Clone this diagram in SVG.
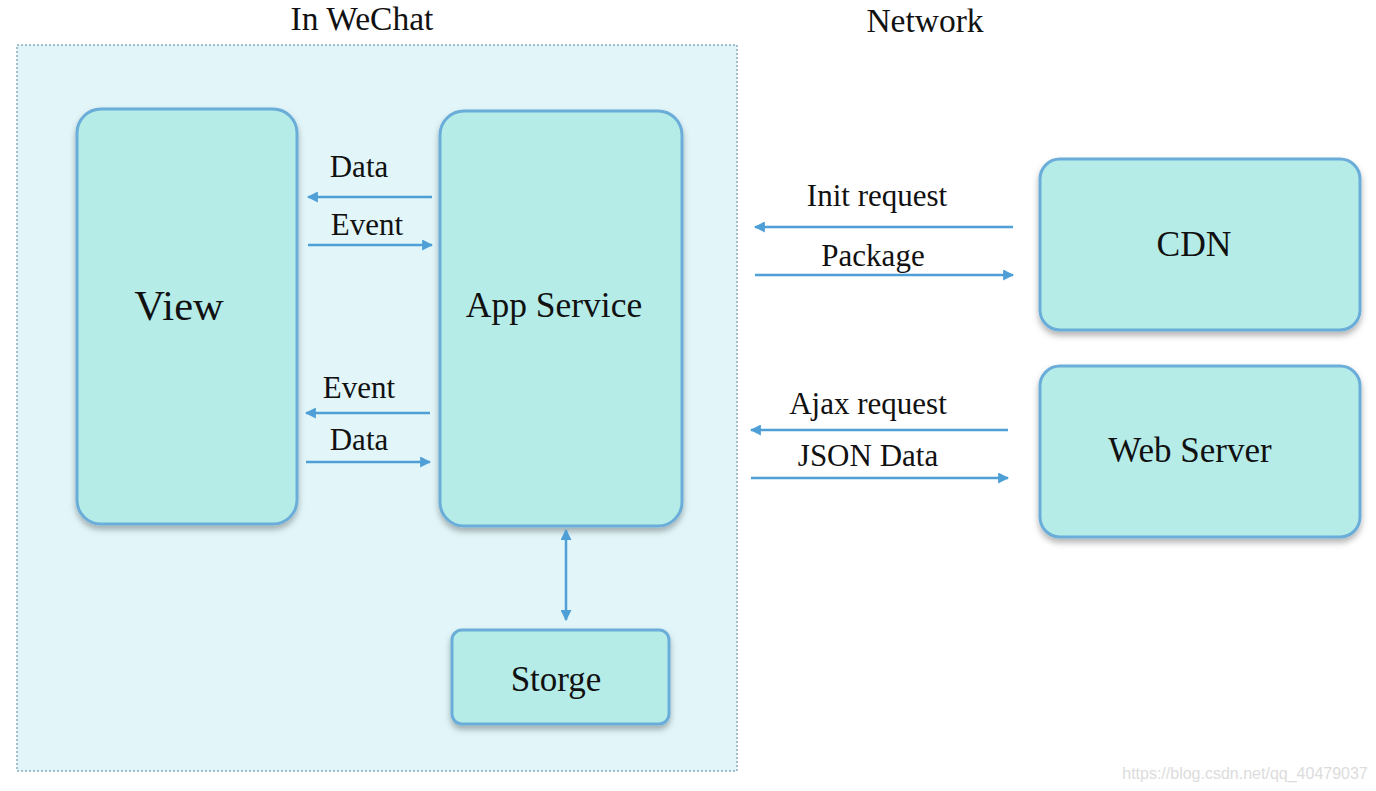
<svg xmlns="http://www.w3.org/2000/svg" width="1376" height="791" viewBox="0 0 1376 791">
<style>
.node{fill:#b5ece8;stroke:#6badd8;stroke-width:3}
.lbl{font-family:"Liberation Serif","Times New Roman",serif;fill:#111;text-anchor:middle}
.conn{stroke:#4d9fd6;stroke-width:2.5;fill:none}
</style>
<defs>
<filter id="sh" x="-10%" y="-10%" width="120%" height="125%">
<feDropShadow dx="0" dy="4" stdDeviation="3" flood-color="#000" flood-opacity="0.3"/>
</filter>
<marker id="ah" viewBox="0 0 10 10" refX="9" refY="5" markerWidth="4.4" markerHeight="4.4" orient="auto-start-reverse" markerUnits="strokeWidth">
<path d="M0,0 L10,5 L0,10 z" fill="#4d9fd6"/>
</marker>
</defs>
<rect width="1376" height="791" fill="#fff"/>
<g id="container">
<rect x="17" y="45" width="720" height="726" fill="#e2f6f9" stroke="#8aa9bd" stroke-width="1.5" stroke-dasharray="2,2"/>
</g>
<text class="lbl" x="362" y="30" font-size="33.5">In WeChat</text>
<text class="lbl" x="925" y="32" font-size="33.5">Network</text>
<g id="view">
<rect class="node" x="77" y="109" width="220" height="415" rx="24" filter="url(#sh)"/>
<text class="lbl" x="179" y="320" font-size="42.5">View</text>
</g>
<g id="app-service">
<rect class="node" x="440" y="111" width="242" height="415" rx="24" filter="url(#sh)"/>
<text class="lbl" x="554" y="317" font-size="35.5">App Service</text>
</g>
<g id="storage">
<rect class="node" x="452" y="630" width="217" height="94" rx="10" filter="url(#sh)"/>
<text class="lbl" x="556" y="691" font-size="35">Storge</text>
</g>
<g id="cdn">
<rect class="node" x="1040" y="159" width="320" height="171" rx="20" filter="url(#sh)"/>
<text class="lbl" x="1194" y="256" font-size="35.5">CDN</text>
</g>
<g id="web-server">
<rect class="node" x="1040" y="366" width="320" height="171" rx="20" filter="url(#sh)"/>
<text class="lbl" x="1190" y="462" font-size="35">Web Server</text>
</g>
<g id="connectors">
<line class="conn" x1="432" y1="197" x2="308" y2="197" marker-end="url(#ah)"/>
<line class="conn" x1="308" y1="245" x2="432" y2="245" marker-end="url(#ah)"/>
<line class="conn" x1="430" y1="413" x2="306" y2="413" marker-end="url(#ah)"/>
<line class="conn" x1="306" y1="462" x2="430" y2="462" marker-end="url(#ah)"/>
<line class="conn" x1="566" y1="530" x2="566" y2="620" marker-start="url(#ah)" marker-end="url(#ah)"/>
<line class="conn" x1="1013" y1="227" x2="755" y2="227" marker-end="url(#ah)"/>
<line class="conn" x1="755" y1="275" x2="1013" y2="275" marker-end="url(#ah)"/>
<line class="conn" x1="1008" y1="430" x2="751" y2="430" marker-end="url(#ah)"/>
<line class="conn" x1="751" y1="478" x2="1008" y2="478" marker-end="url(#ah)"/>
<text class="lbl" x="359" y="177" font-size="31">Data</text>
<text class="lbl" x="367" y="235" font-size="31">Event</text>
<text class="lbl" x="359" y="398" font-size="31">Event</text>
<text class="lbl" x="359" y="450" font-size="31">Data</text>
<text class="lbl" x="877" y="206" font-size="31">Init request</text>
<text class="lbl" x="873" y="266" font-size="31">Package</text>
<text class="lbl" x="868" y="414" font-size="31">Ajax request</text>
<text class="lbl" x="868" y="466" font-size="31">JSON Data</text>
</g>
<text x="1245" y="779" font-family="'Liberation Sans',Arial,sans-serif" font-size="16" fill="#dcdcdc" text-anchor="middle">https://blog.csdn.net/qq_40479037</text>
</svg>
